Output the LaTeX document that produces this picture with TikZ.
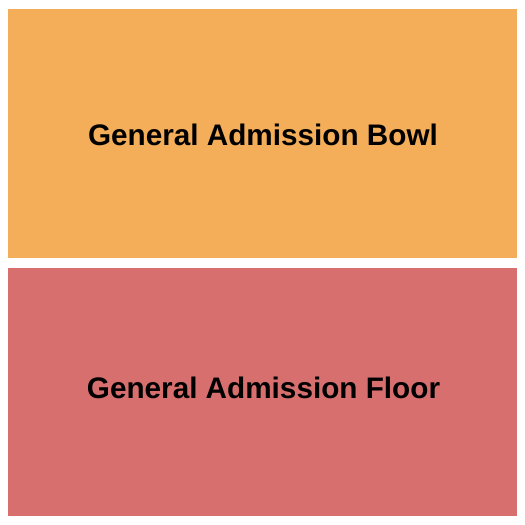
\documentclass[tikz,border=0pt]{standalone}
\usepackage{fontspec}
\setmainfont{Liberation Sans}
\definecolor{bowlc}{HTML}{F4AE5A}
\definecolor{floorc}{HTML}{D86F6F}
\begin{document}
\begin{tikzpicture}[x=1pt,y=-1pt,
  sect/.style={inner sep=0pt, outer sep=0pt},
  lbl/.style={font=\fontsize{29.7}{34}\selectfont\bfseries, text=black, inner sep=0pt, anchor=base}]
\useasboundingbox (0,0) rectangle (525,525);
\fill[white] (0,0) rectangle (525,525);
\fill[bowlc] (8,9) rectangle (517,258);
\fill[floorc] (8,268) rectangle (517,516);
\node[sect] (bowl) at (262.5,133.5) {};
\node[sect] (floor) at (262.5,392) {};
\node[lbl] (bowlt) at (263,145) {General Admission Bowl};
\node[lbl] (floort) at (263.5,398) {General Admission Floor};
\end{tikzpicture}
\end{document}
